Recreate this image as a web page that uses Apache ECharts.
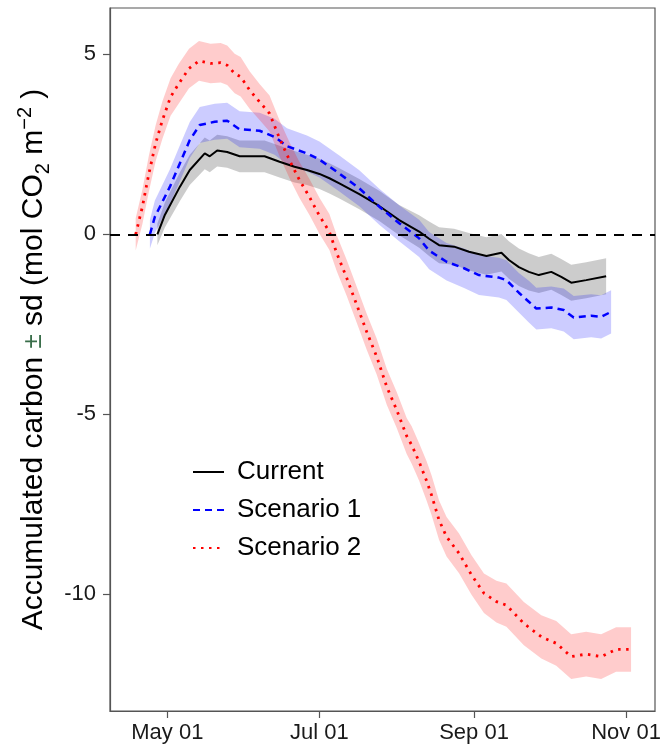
<!DOCTYPE html>
<html>
<head>
<meta charset="utf-8">
<script src="https://cdn.jsdelivr.net/npm/echarts@6/dist/echarts.min.js"></script>
<style>
  html, body { margin: 0; padding: 0; background: #fff; }
  #chart { width: 665px; height: 753px; }
</style>
</head>
<body>
<div id="chart"></div>
<script>
// x values are days relative to May 01
const tickDays = [0, 61, 123, 184];
const tickLabels = ['May 01', 'Jul 01', 'Sep 01', 'Nov 01'];
const yTicks = [-10, -5, 0, 5];
const seriesNames = ['Current', 'Scenario 1', 'Scenario 2'];

const currentDays = [-4, -1, 5, 9, 15, 17, 20, 24, 29, 34, 39, 45, 51, 56, 61, 65, 69, 77, 85, 93,
  101, 105, 109, 115, 121, 128, 134, 137, 141, 145, 149, 154, 158, 162, 168, 176];
const currentMean = [0, 0.54, 1.32, 1.79, 2.25, 2.17, 2.33, 2.29, 2.17, 2.17, 2.17, 2.02, 1.88, 1.79, 1.68, 1.56, 1.42, 1.12, 0.79, 0.40,
  0.08, -0.12, -0.30, -0.34, -0.48, -0.60, -0.51, -0.71, -0.91, -1.04, -1.13, -1.04, -1.18, -1.34, -1.27, -1.16];
const currentSd = [0.30, 0.35, 0.40, 0.42, 0.44, 0.44, 0.44, 0.44, 0.44, 0.44, 0.44, 0.44, 0.44, 0.42, 0.42, 0.42, 0.42, 0.42, 0.42, 0.42,
  0.45, 0.48, 0.50, 0.50, 0.52, 0.52, 0.52, 0.52, 0.52, 0.52, 0.50, 0.50, 0.50, 0.50, 0.50, 0.50];

const scenario1Days = [-7, -5, 1, 5, 9, 13, 19, 24, 29, 37, 43, 48, 56, 61, 69, 77, 85, 93, 101, 105,
  112, 119, 125, 133, 136, 141, 145, 148, 154, 159, 163, 170, 174, 178];
const scenario1Mean = [0, 0.49, 1.32, 1.97, 2.62, 3.04, 3.13, 3.16, 2.92, 2.88, 2.71, 2.45, 2.25, 2.08, 1.69, 1.28, 0.77, 0.31, -0.11, -0.45,
  -0.76, -0.94, -1.13, -1.20, -1.27, -1.62, -1.87, -2.06, -2.03, -2.10, -2.31, -2.26, -2.29, -2.15];
const scenario1Sd = [0.40, 0.45, 0.48, 0.50, 0.50, 0.50, 0.50, 0.50, 0.50, 0.50, 0.50, 0.50, 0.50, 0.50, 0.50, 0.50, 0.50, 0.50, 0.52, 0.52,
  0.52, 0.55, 0.55, 0.55, 0.55, 0.55, 0.58, 0.58, 0.58, 0.60, 0.60, 0.60, 0.60, 0.60];

const scenario2Days = [-12.7, -10, -7.4, -4.7, -2, 1.3, 4.6, 8.7, 12.7, 17.3, 21.4, 24, 27, 29.4, 33, 37, 41, 45, 49, 53,
  57, 61, 65, 68, 72, 76, 80, 84, 88, 92, 96, 98, 101, 104, 106, 109, 112, 117, 122, 127,
  132, 136, 143, 150, 156, 162, 168, 174, 180, 186];
const scenario2Mean = [0, 0.77, 1.69, 2.53, 3.17, 3.82, 4.19, 4.61, 4.82, 4.75, 4.77, 4.70, 4.47, 4.38, 4.01, 3.68, 3.36, 2.67, 2.06, 1.51,
  1.04, 0.52, 0.07, -0.53, -1.22, -1.96, -2.71, -3.40, -4.23, -4.88, -5.60, -5.85, -6.32, -6.85, -7.25, -7.94, -8.40, -8.86, -9.46, -9.97,
  -10.20, -10.30, -10.81, -11.18, -11.36, -11.73, -11.66, -11.73, -11.53, -11.53];
const scenario2Sd = [0.45, 0.48, 0.50, 0.50, 0.52, 0.52, 0.55, 0.55, 0.55, 0.55,
  0.55, 0.55, 0.55, 0.55, 0.52, 0.50, 0.50, 0.50, 0.50, 0.50,
  0.50, 0.50, 0.50, 0.50, 0.50, 0.50, 0.50, 0.50, 0.50, 0.50,
  0.50, 0.52, 0.52, 0.55, 0.55, 0.55, 0.55, 0.55, 0.55, 0.55,
  0.58, 0.60, 0.60, 0.60, 0.62, 0.62, 0.62, 0.62, 0.62, 0.62];

const FONT = '"Liberation Sans", Arial, Helvetica, sans-serif';

function bandSeries(days, mean, sd, color) {
  const data = days.map((d, i) => [d, mean[i] - sd[i], mean[i] + sd[i]]);
  return {
    type: 'custom', silent: true, z: 1, clip: true,
    encode: { x: 0, y: [1, 2] },
    data: data,
    renderItem: function (params, api) {
      if (params.dataIndex !== 0) return null;
      const upper = data.map(p => api.coord([p[0], p[2]]));
      const lower = data.map(p => api.coord([p[0], p[1]])).reverse();
      return {
        type: 'polygon',
        shape: { points: upper.concat(lower) },
        style: { fill: color, stroke: null }
      };
    }
  };
}
function meanData(days, mean) { return days.map((d, i) => [d, mean[i]]); }

const chart = echarts.init(document.getElementById('chart'), null, { renderer: 'canvas' });
chart.setOption({
  animation: false,
  backgroundColor: '#ffffff',
  grid: { left: 110, right: 10, top: 8, bottom: 42, show: true, borderColor: '#555555', borderWidth: 1.2, containLabel: false },
  legend: {
    data: seriesNames,
    orient: 'vertical',
    left: 187, top: 454,
    itemWidth: 31, itemHeight: 14, itemGap: 12,
    itemStyle: { opacity: 0 },
    textStyle: { fontSize: 26, fontFamily: FONT, color: '#000', padding: [0, 0, 0, 8] }
  },
  xAxis: {
    type: 'value', min: -23, max: 195.6,
    splitLine: { show: false },
    axisLine: { show: true, onZero: false, lineStyle: { color: '#555555', width: 1.2 } },
    axisTick: { show: true, customValues: tickDays, length: 7, lineStyle: { color: '#555555', width: 1.2 } },
    axisLabel: { customValues: tickDays, margin: 11, fontSize: 22, fontFamily: FONT, color: '#1a1a1a',
      formatter: v => tickLabels[tickDays.indexOf(Math.round(v))] || '' }
  },
  yAxis: {
    type: 'value', min: -13.24, max: 6.29,
    splitLine: { show: false },
    axisLine: { show: true, onZero: false, lineStyle: { color: '#555555', width: 1.2 } },
    axisTick: { show: true, customValues: yTicks, length: 7, lineStyle: { color: '#555555', width: 1.2 } },
    axisLabel: { customValues: yTicks, margin: 14, fontSize: 22, fontFamily: FONT, color: '#1a1a1a',
      formatter: v => String(v) },
    name: '{a|Accumulated carbon }{pm|±}{a| sd (mol CO}{sub|2}{a| m}{sup|−2}{a| )}',
    nameLocation: 'middle', nameRotate: 90, nameGap: 57,
    nameTextStyle: {
      fontSize: 30, fontFamily: FONT, color: '#000',
      rich: {
        a: { fontSize: 30, fontFamily: FONT, color: '#000', lineHeight: 38 },
        pm: { fontSize: 26, fontFamily: FONT, color: '#3a6e4a', lineHeight: 38 },
        sub: { fontSize: 20, fontFamily: FONT, color: '#000', lineHeight: 23, verticalAlign: 'bottom' },
        sup: { fontSize: 20, fontFamily: FONT, color: '#000', lineHeight: 23, verticalAlign: 'top' }
      }
    }
  },
  series: [
    bandSeries(currentDays, currentMean, currentSd, 'rgba(0,0,0,0.2)'),
    bandSeries(scenario1Days, scenario1Mean, scenario1Sd, 'rgba(0,0,255,0.2)'),
    bandSeries(scenario2Days, scenario2Mean, scenario2Sd, 'rgba(255,0,0,0.2)'),
    {
      name: 'Current', type: 'line', data: meanData(currentDays, currentMean), symbol: 'none', z: 3,
      itemStyle: { color: '#000000' },
      lineStyle: { color: '#000000', width: 2 },
      markLine: {
        silent: true, symbol: ['none', 'none'], label: { show: false },
        lineStyle: { color: '#000000', type: [10, 8], width: 2 },
        data: [{ yAxis: 0 }]
      }
    },
    {
      name: 'Scenario 1', type: 'line', data: meanData(scenario1Days, scenario1Mean), symbol: 'none', z: 3,
      itemStyle: { color: '#0000ff' },
      lineStyle: { color: '#0000ff', width: 2.5, type: [7, 5] }
    },
    {
      name: 'Scenario 2', type: 'line', data: meanData(scenario2Days, scenario2Mean), symbol: 'none', z: 3,
      itemStyle: { color: '#ff0000' },
      lineStyle: { color: '#ff0000', width: 2.8, type: [2.5, 5.5] }
    }
  ]
});
</script>
</body>
</html>
